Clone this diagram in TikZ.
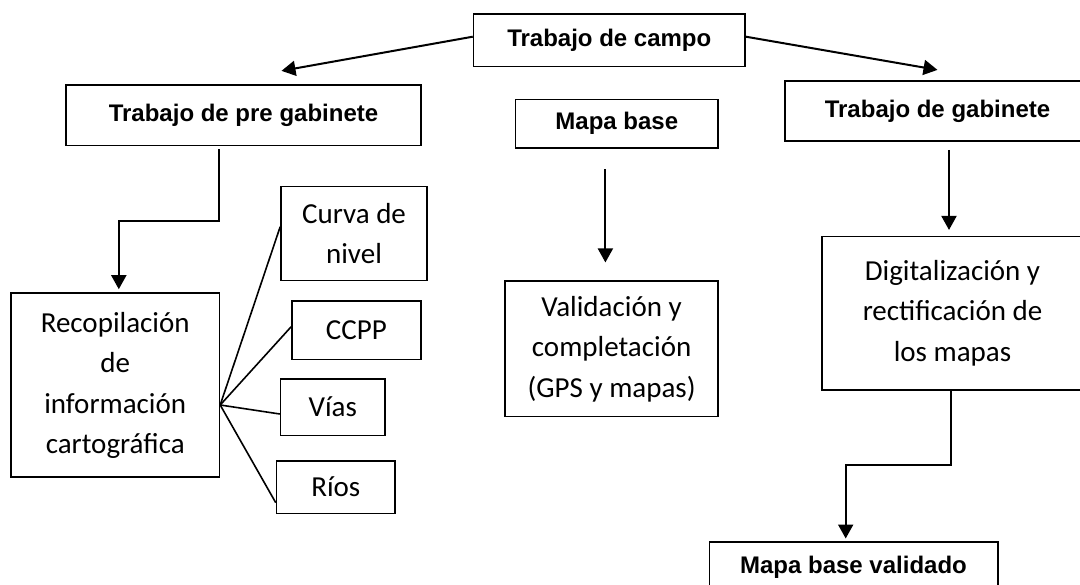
\documentclass[tikz,border=0pt]{standalone}
\usepackage{fontspec}
\setmainfont{Carlito}
\newfontfamily\headfont{Liberation Sans}
\usetikzlibrary{arrows.meta,positioning,calc}
\tikzset{
>={Triangle[length=14pt,width=15pt]},
titel/.style={ rectangle, draw=black, line width=1.6pt, inner sep=0pt, text centered, font=\headfont\bfseries\fontsize{24}{28}\selectfont},
punkt/.style={ rectangle, draw=black, line width=1.6pt, inner sep=0pt, align=center, font=\fontsize{29}{40.5}\selectfont},
line/.style={draw, line width=2pt, ->},
merge/.style={draw, line width=1.6pt, -},
}
\begin{document}
\begin{tikzpicture}
[x=1pt, y=-1pt]
\useasboundingbox (0,0) rectangle (1080,585);

\node[titel, minimum width=271.5pt, minimum height=52.7pt] (campo) at (609.3,40.3) {Trabajo de campo};
\node[titel, minimum width=355pt, minimum height=60.7pt] (pre) at (243.5,115.3) {Trabajo de pre gabinete};
\node[titel, minimum width=202.5pt, minimum height=48.7pt] (mapabase) at (616.8,123.7) {Mapa base};
\node[titel, minimum width=305pt, minimum height=60pt] (gab) at (937.5,111.3) {Trabajo de gabinete};

\node[punkt, minimum width=208.4pt, minimum height=184pt] (recop) at (115.2,385.3) {Recopilación\\de\\información\\cartográfica};
\node[punkt, minimum width=146pt, minimum height=93.8pt] (curva) at (354,233.6) {Curva de\\nivel};
\node[punkt, minimum width=128.8pt, minimum height=58.3pt] (ccpp) at (356.4,330.2) {CCPP};
\node[punkt, minimum width=104.4pt, minimum height=56.3pt] (vias) at (332.8,407.2) {Vías};
\node[punkt, minimum width=118.5pt, minimum height=52.3pt] (rios) at (335.8,487.2) {Ríos};

\node[punkt, minimum width=212.8pt, minimum height=135.7pt] (valid) at (611.6,348.8) {Validación y\\completación\\(GPS y mapas)};
\node[punkt, minimum width=261pt, minimum height=153.7pt] (digit) at (952.5,313.2) {Digitalización y\\rectificación de\\los mapas};

\node[titel, minimum width=288.4pt, minimum height=50.6pt] (final) at (853.5,567) {Mapa base validado};

% campo
\path [line] ([yshift=3.6pt]campo.west) -- ([xshift=38pt,yshift=13.3pt]pre.north);
\path [line] ([yshift=3.6pt]campo.east) -- ([yshift=10.6pt]gab.north);

% pre gabinete
\path [line] ([xshift=-25pt,yshift=-3pt]pre.south) -- ++(0,71.3) -| ([xshift=3.6pt,yshift=3.3pt]recop.north);
\path [merge] ([yshift=-19.7pt]recop.east) -- ([yshift=6.9pt]curva.west);
\path [merge] ([yshift=-19.7pt]recop.east) -- ([yshift=3.5pt]ccpp.west);
\path [merge] ([yshift=-19.7pt]recop.east) -- ([yshift=-6.8pt]vias.west);
\path [merge] ([yshift=-19.7pt]recop.east) -- ([yshift=-15.5pt]rios.west);

% mapa base
\path [line] ([xshift=-11.4pt,yshift=-20.3pt]mapabase.south) -- ([xshift=-6.2pt,yshift=17.7pt]valid.north);

% gabinete
\path [line] ([xshift=11.5pt,yshift=-7.7pt]gab.south) -- ([xshift=-3.5pt,yshift=5.6pt]digit.north);
\path [line] ([xshift=-2pt]digit.south) -- ++(0,74.3) -| ([xshift=-7.8pt,yshift=2.4pt]final.north);

\end{tikzpicture}
\end{document}
